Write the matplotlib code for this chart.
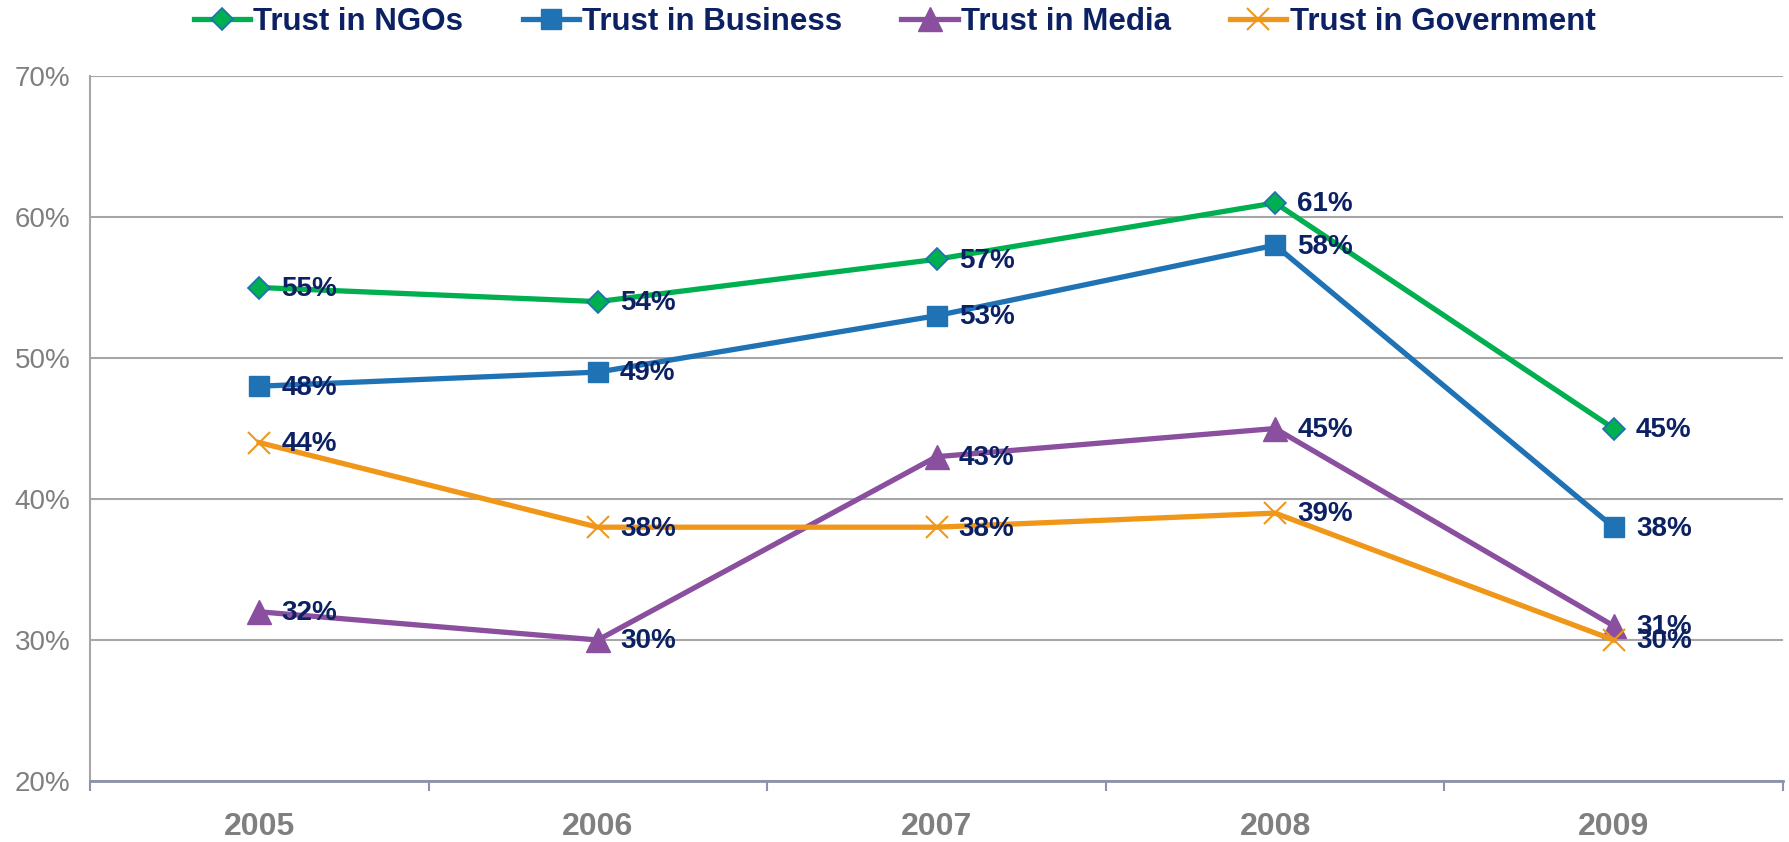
import numpy as np
import matplotlib.pyplot as plt

years = ['2005', '2006', '2007', '2008', '2009']
ngos = [55, 54, 57, 61, 45]
business = [48, 49, 53, 58, 38]
media = [32, 30, 43, 45, 31]
government = [44, 38, 38, 39, 30]

plt.rcParams['font.family'] = ['Liberation Sans', 'DejaVu Sans']

label_col = '#0C2163'
grid_col = '#A6A6A6'

fig = plt.figure(figsize=(17.89, 8.42), dpi=100)
ax = fig.add_axes([90 / 1789, 1 - 781 / 842, (1783 - 90) / 1789, (781 - 76) / 842])

x = np.arange(len(years))
series = [
    ('Trust in NGOs', ngos, '#00B050', dict(marker='D', ms=11, mec='#1F6FB5', mew=1.2)),
    ('Trust in Business', business, '#1F72B4', dict(marker='s', ms=15)),
    ('Trust in Media', media, '#8A4F9E', dict(marker='^', ms=17)),
    ('Trust in Government', government, '#F09719', dict(marker='x', ms=16, mew=1.5)),
]
for name, vals, col, mk in series:
    ax.plot(x, vals, color=col, lw=3.8, label=name, **mk, zorder=3)
    for xi, v in zip(x, vals):
        ax.annotate(f'{v}%', (xi, v), xytext=(16, -1), textcoords='offset points',
                    ha='left', va='center', fontsize=20, fontweight='bold',
                    color=label_col, zorder=4)

ax.set_xlim(-0.5, 4.5)
ax.set_ylim(20, 70)
ax.set_yticks(range(20, 71, 10))
ax.set_yticklabels([f'{v}%' for v in range(20, 71, 10)], fontsize=20, color='#7F7F7F')
ax.set_xticks(x)
ax.set_xticklabels(years, fontsize=23, fontweight='bold', color='#7F7F7F')
ax.set_xticks(np.arange(-0.5, 5, 1), minor=True)
ax.tick_params(axis='x', which='major', length=0, pad=22)
ax.tick_params(axis='x', which='minor', length=7, width=1.5, color='#8C93A8', direction='out')
ax.tick_params(axis='y', length=0, pad=14)
ax.grid(axis='y', color=grid_col, lw=1.5, zorder=0)
for s in ['top', 'right']:
    ax.spines[s].set_visible(False)
ax.spines['left'].set_color(grid_col)
ax.spines['left'].set_linewidth(1.5)
ax.spines['bottom'].set_color('#8C93A8')
ax.spines['bottom'].set_linewidth(2)

leg = fig.legend(loc='upper center', bbox_to_anchor=(0.5, 1.025), ncol=4, frameon=False,
                 prop={'weight': 'bold', 'size': 22.5},
                 handlelength=1.8, handletextpad=0.1, columnspacing=1.9)
for t in leg.get_texts():
    t.set_color(label_col)

fig.savefig('out.png', dpi=100)
